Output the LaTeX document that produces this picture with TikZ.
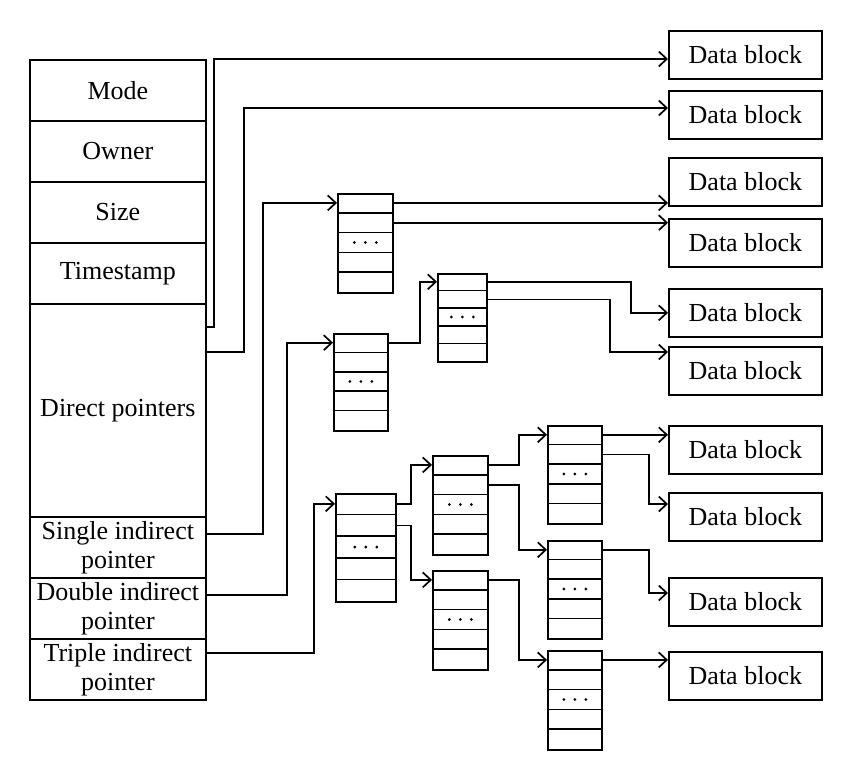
\documentclass[tikz,border=0pt]{standalone}
\usepackage{fontspec}
\setmainfont{Liberation Serif}
\usetikzlibrary{arrows.meta}
\newcommand\pblk[5]{% name, x left, y top, width, height
  \node[draw, anchor=north west, minimum width=#4pt, minimum height=#5pt, inner sep=0pt] (#1) at (#2,#3) {};
  \pgfmathsetmacro\ch{#5/5}
  \foreach \k in {1,2,3,4}
    \draw ([yshift={-\k*\ch*1pt}]#1.north west) -- ([yshift={-\k*\ch*1pt}]#1.north east);
  \foreach \d in {-11,0,11}
    \fill ([xshift=\d pt, yshift={-2.5*\ch*1pt}]#1.north) circle (1.6pt);
  \coordinate (#1i) at ([yshift={-0.5*\ch*1pt}]#1.north west);
  \coordinate (#1o1) at ([yshift={-0.5*\ch*1pt}]#1.north east);
  \coordinate (#1o2) at ([yshift={-1.5*\ch*1pt}]#1.north east);
}
\begin{document}
\begin{tikzpicture}[x=1pt, y=-1pt, line width=1.7pt,
  every node/.style={font=\fontsize{26}{29}\selectfont},
  field/.style={draw, anchor=north west, minimum width=176pt, inner sep=0pt, align=center},
  dblock/.style={draw, anchor=north west, minimum width=153pt, minimum height=48pt, inner sep=0pt},
  arr/.style={-{Straight Barb[length=8pt,width=15pt]}}]
\useasboundingbox (0,0) rectangle (850,778);

% inode
\node[field, minimum height=61pt] (mode) at (29,59) {Mode};
\node[field, minimum height=61pt] (owner) at (29,120) {Owner};
\node[field, minimum height=61pt] (size) at (29,181) {Size};
\node[field, minimum height=61pt] (time) at (29,242) {Timestamp};
\node[field, minimum height=213pt] (direct) at (29,303) {Direct pointers};
\node[field, minimum height=61pt] (single) at (29,516) {Single indirect\\pointer};
\node[field, minimum height=61pt] (double) at (29,577) {Double indirect\\pointer};
\node[field, minimum height=61pt] (triple) at (29,638) {Triple indirect\\pointer};

% data blocks
\node[dblock] (d1) at (668,30) {Data block};
\node[dblock] (d2) at (668,90) {Data block};
\node[dblock] (d3) at (668,157) {Data block};
\node[dblock] (d4) at (668,218) {Data block};
\node[dblock] (d5) at (668,288) {Data block};
\node[dblock] (d6) at (668,346) {Data block};
\node[dblock] (d7) at (668,425) {Data block};
\node[dblock] (d8) at (668,492) {Data block};
\node[dblock] (d9) at (668,577) {Data block};
\node[dblock] (d10) at (668,651) {Data block};

% pointer blocks
\pblk{A}{337}{193}{55}{99}
\pblk{B}{333}{333}{54}{97}
\pblk{C}{437}{273}{49}{88}
\pblk{D}{335}{493}{60}{108}
\pblk{E}{432}{455}{55}{99}
\pblk{F}{432}{570}{55}{99}
\pblk{G}{547}{425}{54}{98}
\pblk{H}{547}{540}{54}{98}
\pblk{I}{547}{650}{54}{99}

% direct pointers
\draw[arr] (direct.east |- 0,327) -- ++(7,0) |- (d1.west |- mode.north);
\draw[arr] (direct.east |- 0,352) -- ++(37,0) |- (d2.west |- 0,108);
% single indirect
\draw[arr] (single.east |- 0,534) -- ++(56,0) |- (Ai);
\draw[arr] (Ao1) -- (Ao1 -| d3.west);
\draw[arr] (Ao2) -- (Ao2 -| d4.west);
% double indirect
\draw[arr] (double.east |- 0,595) -- ++(80,0) |- (Bi);
\draw[arr] (Bo1) -- ++(31,0) |- (Ci);
\draw[arr] (Co1) -- ++(143,0) |- (d5.west);
\draw[arr] (Co2) -- ++(122,0) |- (d6.west |- 0,352);
% triple indirect
\draw[arr] (triple.east |- 0,653) -- ++(107,0) |- (Di);
\draw[arr] (Do1) -- ++(14,0) |- (Ei);
\draw[arr] (Do2) -- ++(14,0) |- (Fi);
\draw[arr] (Eo1) -- ++(30,0) |- (Gi);
\draw[arr] (Eo2) -- ++(30,0) |- (Hi);
\draw[arr] (Fo1) -- ++(30,0) |- (Ii);
\draw[arr] (Go1) -- (Go1 -| d7.west);
\draw[arr] (Go2) -- ++(46,0) |- (d8.west |- 0,504);
\draw[arr] (Ho1) -- ++(46,0) |- (d9.west |- 0,593);
\draw[arr] (Io1) -- (Io1 -| d10.west);
\end{tikzpicture}
\end{document}
